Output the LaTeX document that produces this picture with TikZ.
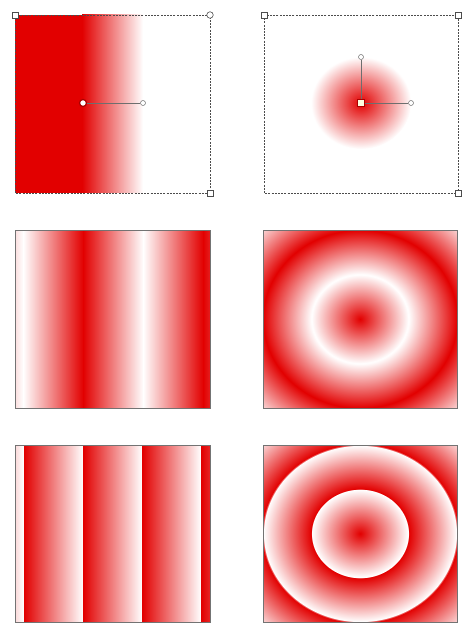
\documentclass[tikz,border=0pt]{standalone}
\usepackage{tikz}
\usetikzlibrary{positioning}

\definecolor{gradred}{RGB}{226,0,0}
\definecolor{handlegray}{RGB}{110,110,110}

% radial gradients, 25bp = half of the box
\pgfdeclareradialshading{radreflect}{\pgfpointorigin}{%
  color(0bp)=(gradred); color(12.5bp)=(white); color(25bp)=(gradred);
  color(37.5bp)=(white); color(50bp)=(gradred)}
\pgfdeclareradialshading{radrepeat}{\pgfpointorigin}{%
  color(0bp)=(gradred); color(12.4bp)=(white); color(12.6bp)=(gradred);
  color(24.9bp)=(white); color(25.1bp)=(gradred); color(37.4bp)=(white);
  color(37.6bp)=(gradred); color(50bp)=(white)}

\begin{document}
\begin{tikzpicture}[x=1pt,y=-1pt,
    selbox/.style={draw=black!70,line width=0.6pt,dash pattern=on 2pt off 1.2pt},
    plainbox/.style={draw=black!55,line width=0.8pt},
    sqhandle/.style={draw=black!70,fill=white,line width=0.6pt,
                     minimum size=6pt,inner sep=0pt},
    cihandle/.style={circle,draw=black!70,fill=white,line width=0.6pt,
                     minimum size=6.5pt,inner sep=0pt},
    endhandle/.style={circle,draw=handlegray,fill=white,line width=0.5pt,
                      minimum size=5pt,inner sep=0pt},
    gradline/.style={draw=handlegray,line width=0.6pt}]
  \useasboundingbox[fill=white] (0,0) rectangle (466,628);

  % top left: linear, pad
  \shade[left color=gradred,right color=white] (82,15) rectangle (143,193);
  \fill[gradred] (15,15) rectangle (83,193);
  \draw[selbox] (15,15) rectangle (210,193);
  \node[sqhandle] (tlA) at (15,15) {};
  \node[cihandle] (tlB) at (210,15) {};
  \node[sqhandle] (tlC) at (210,193) {};
  \node[circle,draw=gradred!75!black,fill=white,line width=1.2pt,
        minimum size=7pt,inner sep=0pt] (linC) at (83,103) {};
  \node[endhandle] (linE) at (143,103) {};
  \draw[gradline] (linC) -- (linE);

  % top right: radial, pad
  \shade[inner color=gradred,outer color=white] (361,103) ellipse (50 and 46);
  \draw[selbox] (264,15) rectangle (458,193);
  \node[sqhandle] (trA) at (264,15) {};
  \node[sqhandle] (trB) at (458,15) {};
  \node[sqhandle] (trC) at (458,193) {};
  \node[draw=gradred!75!black,fill=yellow!12,line width=1.2pt,
        minimum size=7pt,inner sep=0pt] (radC) at (361,103) {};
  \node[endhandle] (radE) at (411,103) {};
  \node[endhandle] (radN) at (361,57) {};
  \draw[gradline] (radC) -- (radE);
  \draw[gradline] (radC) -- (radN);

  % middle left: linear, reflect
  \foreach \xa/\xb/\ca/\cb in {15/23.4/gradred!13/white, 23/83.4/white/gradred,
      83/143.4/gradred/white, 143/203.4/white/gradred, 203/210/gradred/gradred!88}
    \shade[left color=\ca,right color=\cb] (\xa,230) rectangle (\xb,408);
  \draw[plainbox] (15,230) rectangle (210,408);

  % middle right: radial, reflect
  \shade[shading=radreflect] (263,230) rectangle (457,408);
  \draw[plainbox] (263,230) rectangle (457,408);

  % bottom left: linear, repeat
  \foreach \xa/\xb/\ca/\cb in {15/24/gradred!15/white, 24/83/gradred/white,
      83/142/gradred/white, 142/201/gradred/white, 201/210/gradred/gradred!85}
    \shade[left color=\ca,right color=\cb] (\xa,445) rectangle (\xb,622);
  \draw[plainbox] (15,445) rectangle (210,622);

  % bottom right: radial, repeat
  \shade[shading=radrepeat] (263,445) rectangle (457,622);
  \draw[plainbox] (263,445) rectangle (457,622);
\end{tikzpicture}
\end{document}
